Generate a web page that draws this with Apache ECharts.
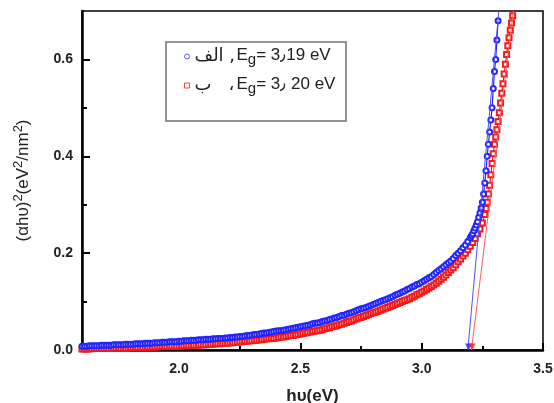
<!DOCTYPE html>
<html>
<head>
<meta charset="utf-8">
<script src="https://cdn.jsdelivr.net/npm/echarts@6/dist/echarts.min.js"></script>
<style>
  html, body { margin: 0; padding: 0; background: #fff; }
  #chart { width: 554px; height: 403px; }
</style>
</head>
<body>
<div id="chart"></div>
<script>
// sample "الف" (Eg = 3.19 eV), blue circles
var hvA = [1.60, 1.61, 1.62, 1.63, 1.64, 1.65, 1.66, 1.67, 1.68, 1.69,
	1.70, 1.71, 1.72, 1.73, 1.74, 1.75, 1.76, 1.77, 1.78, 1.79,
	1.80, 1.81, 1.82, 1.83, 1.84, 1.85, 1.86, 1.87, 1.88, 1.89,
	1.90, 1.91, 1.92, 1.93, 1.94, 1.95, 1.96, 1.97, 1.98, 1.99,
	2.00, 2.01, 2.02, 2.03, 2.04, 2.05, 2.06, 2.07, 2.08, 2.09,
	2.10, 2.11, 2.12, 2.13, 2.14, 2.15, 2.16, 2.17, 2.18, 2.19,
	2.20, 2.21, 2.22, 2.23, 2.24, 2.25, 2.26, 2.27, 2.28, 2.29,
	2.30, 2.31, 2.32, 2.33, 2.34, 2.35, 2.36, 2.37, 2.38, 2.39,
	2.40, 2.41, 2.42, 2.43, 2.44, 2.45, 2.46, 2.47, 2.48, 2.49,
	2.50, 2.51, 2.52, 2.53, 2.54, 2.55, 2.56, 2.57, 2.58, 2.59,
	2.60, 2.61, 2.62, 2.63, 2.64, 2.65, 2.66, 2.67, 2.68, 2.69,
	2.70, 2.71, 2.72, 2.73, 2.74, 2.75, 2.76, 2.77, 2.78, 2.79,
	2.80, 2.81, 2.82, 2.83, 2.84, 2.85, 2.86, 2.87, 2.88, 2.89,
	2.90, 2.91, 2.92, 2.93, 2.94, 2.95, 2.96, 2.97, 2.98, 2.99,
	3.00, 3.01, 3.02, 3.03, 3.04, 3.05, 3.06, 3.07, 3.08, 3.09,
	3.10, 3.11, 3.12, 3.13, 3.14, 3.15, 3.16, 3.17, 3.18, 3.19,
	3.200, 3.205, 3.210, 3.215, 3.220, 3.225, 3.230, 3.235, 3.240, 3.245,
	3.250, 3.255, 3.260, 3.265, 3.270, 3.275, 3.280, 3.285, 3.290, 3.295,
	3.300, 3.305, 3.310, 3.315];
var absA = [0.008, 0.008, 0.008, 0.009, 0.009, 0.009, 0.009, 0.009, 0.010, 0.010,
	0.010, 0.010, 0.010, 0.011, 0.011, 0.011, 0.011, 0.011, 0.012, 0.012,
	0.012, 0.012, 0.013, 0.013, 0.013, 0.013, 0.014, 0.014, 0.014, 0.014,
	0.015, 0.015, 0.015, 0.016, 0.016, 0.016, 0.017, 0.017, 0.017, 0.017,
	0.018, 0.018, 0.019, 0.019, 0.019, 0.020, 0.020, 0.020, 0.021, 0.021,
	0.021, 0.022, 0.022, 0.022, 0.023, 0.023, 0.024, 0.024, 0.024, 0.025,
	0.025, 0.026, 0.026, 0.027, 0.027, 0.028, 0.028, 0.029, 0.030, 0.030,
	0.031, 0.032, 0.032, 0.033, 0.034, 0.035, 0.035, 0.036, 0.037, 0.038,
	0.039, 0.040, 0.040, 0.041, 0.042, 0.043, 0.044, 0.045, 0.046, 0.047,
	0.048, 0.049, 0.050, 0.051, 0.052, 0.054, 0.055, 0.056, 0.057, 0.059,
	0.060, 0.061, 0.063, 0.064, 0.066, 0.067, 0.069, 0.071, 0.072, 0.074,
	0.076, 0.077, 0.079, 0.081, 0.083, 0.085, 0.086, 0.088, 0.090, 0.092,
	0.094, 0.096, 0.098, 0.100, 0.102, 0.104, 0.106, 0.108, 0.110, 0.113,
	0.115, 0.117, 0.120, 0.122, 0.125, 0.127, 0.130, 0.132, 0.135, 0.137,
	0.140, 0.143, 0.146, 0.149, 0.152, 0.156, 0.160, 0.164, 0.168, 0.172,
	0.176, 0.180, 0.184, 0.189, 0.195, 0.200, 0.205, 0.211, 0.217, 0.224,
	0.232, 0.236, 0.240, 0.246, 0.252, 0.258, 0.265, 0.274, 0.283, 0.293,
	0.305, 0.322, 0.345, 0.370, 0.400, 0.425, 0.450, 0.475, 0.500, 0.540,
	0.575, 0.600, 0.640, 0.680];

// sample "ب" (Eg = 3.20 eV), red squares
var hvB = [1.60, 1.61, 1.62, 1.63, 1.64, 1.65, 1.66, 1.67, 1.68, 1.69,
	1.70, 1.71, 1.72, 1.73, 1.74, 1.75, 1.76, 1.77, 1.78, 1.79,
	1.80, 1.81, 1.82, 1.83, 1.84, 1.85, 1.86, 1.87, 1.88, 1.89,
	1.90, 1.91, 1.92, 1.93, 1.94, 1.95, 1.96, 1.97, 1.98, 1.99,
	2.00, 2.01, 2.02, 2.03, 2.04, 2.05, 2.06, 2.07, 2.08, 2.09,
	2.10, 2.11, 2.12, 2.13, 2.14, 2.15, 2.16, 2.17, 2.18, 2.19,
	2.20, 2.21, 2.22, 2.23, 2.24, 2.25, 2.26, 2.27, 2.28, 2.29,
	2.30, 2.31, 2.32, 2.33, 2.34, 2.35, 2.36, 2.37, 2.38, 2.39,
	2.40, 2.41, 2.42, 2.43, 2.44, 2.45, 2.46, 2.47, 2.48, 2.49,
	2.50, 2.51, 2.52, 2.53, 2.54, 2.55, 2.56, 2.57, 2.58, 2.59,
	2.60, 2.61, 2.62, 2.63, 2.64, 2.65, 2.66, 2.67, 2.68, 2.69,
	2.70, 2.71, 2.72, 2.73, 2.74, 2.75, 2.76, 2.77, 2.78, 2.79,
	2.80, 2.81, 2.82, 2.83, 2.84, 2.85, 2.86, 2.87, 2.88, 2.89,
	2.90, 2.91, 2.92, 2.93, 2.94, 2.95, 2.96, 2.97, 2.98, 2.99,
	3.00, 3.01, 3.02, 3.03, 3.04, 3.05, 3.06, 3.07, 3.08, 3.09,
	3.10, 3.11, 3.12, 3.13, 3.14, 3.15, 3.16, 3.17, 3.18, 3.19,
	3.200, 3.210, 3.220, 3.230, 3.240, 3.250, 3.260, 3.265, 3.270, 3.275,
	3.280, 3.285, 3.290, 3.295, 3.300, 3.305, 3.310, 3.315, 3.320, 3.325,
	3.330, 3.335, 3.340, 3.345, 3.350, 3.355, 3.360, 3.365, 3.370, 3.375,
	3.380];
var absB = [0.002, 0.002, 0.002, 0.002, 0.003, 0.003, 0.003, 0.003, 0.003, 0.003,
	0.003, 0.003, 0.004, 0.004, 0.004, 0.004, 0.004, 0.004, 0.004, 0.004,
	0.005, 0.005, 0.005, 0.005, 0.005, 0.005, 0.006, 0.006, 0.006, 0.006,
	0.006, 0.006, 0.007, 0.007, 0.007, 0.007, 0.008, 0.008, 0.008, 0.008,
	0.008, 0.009, 0.009, 0.009, 0.009, 0.010, 0.010, 0.010, 0.010, 0.011,
	0.011, 0.011, 0.012, 0.012, 0.012, 0.013, 0.013, 0.013, 0.014, 0.014,
	0.014, 0.015, 0.015, 0.016, 0.016, 0.017, 0.017, 0.018, 0.018, 0.019,
	0.019, 0.020, 0.020, 0.021, 0.021, 0.022, 0.023, 0.023, 0.024, 0.024,
	0.025, 0.026, 0.027, 0.027, 0.028, 0.029, 0.030, 0.030, 0.031, 0.032,
	0.033, 0.034, 0.035, 0.036, 0.037, 0.038, 0.039, 0.040, 0.041, 0.042,
	0.044, 0.045, 0.046, 0.048, 0.049, 0.050, 0.052, 0.053, 0.055, 0.057,
	0.059, 0.060, 0.062, 0.064, 0.066, 0.067, 0.069, 0.071, 0.073, 0.075,
	0.077, 0.078, 0.080, 0.082, 0.084, 0.086, 0.088, 0.090, 0.092, 0.094,
	0.096, 0.098, 0.100, 0.102, 0.104, 0.106, 0.109, 0.111, 0.114, 0.116,
	0.119, 0.122, 0.125, 0.128, 0.131, 0.134, 0.138, 0.142, 0.146, 0.150,
	0.155, 0.160, 0.165, 0.170, 0.176, 0.182, 0.188, 0.194, 0.200, 0.207,
	0.214, 0.222, 0.230, 0.240, 0.250, 0.262, 0.280, 0.292, 0.305, 0.322,
	0.340, 0.362, 0.385, 0.405, 0.425, 0.440, 0.455, 0.472, 0.490, 0.510,
	0.530, 0.550, 0.570, 0.590, 0.610, 0.628, 0.645, 0.660, 0.675, 0.690,
	0.705];

// linear extrapolation lines down to the energy axis
var fitA = [[3.19, 0], [3.318, 0.70]];
var fitB = [[3.205, 0], [3.378, 0.70]];
var gapA = [3.193];
var gapB = [3.208];

var xMajor = [2.0, 2.5, 3.0, 3.5];
var xMinor = [1.75, 2.25, 2.75, 3.25];
var yMajor = [0.0, 0.2, 0.4, 0.6];
var yMinor = [0.1, 0.3, 0.5];

function pairs(xs, ys) {
	var out = [];
	for (var i = 0; i < xs.length; i++) {
		out.push([xs[i], ys[i]]);
	}
	return out;
}

var blue = '#2424ff';
var red = '#f21a1a';
var font = 'Liberation Sans, Arial, sans-serif';

var tickLabel = {
	color: '#222',
	fontWeight: 'bold',
	fontSize: 14,
	fontFamily: font,
	formatter: function(v) { return v.toFixed(1); }
};

var option = {
	animation: false,
	grid: {
		left: 82,
		right: 11,
		top: 11,
		bottom: 53,
		outerBoundsMode: 'none',
		show: true,
		borderColor: '#000',
		borderWidth: 1.5
	},
	legend: {
		orient: 'vertical',
		left: 179,
		top: 42,
		itemWidth: 5,
		itemHeight: 5,
		itemGap: 9,
		selectedMode: false,
		data: [{
			name: 'الف',
			icon: 'circle',
			itemStyle: { color: '#fff', borderColor: '#5a5aff', borderWidth: 1 }
		}, {
			name: 'ب',
			icon: 'rect',
			itemStyle: { color: '#fff', borderColor: '#ff4040', borderWidth: 1 }
		}],
		formatter: function(name) {
			if (name === 'الف') {
				return '{ar|الف ,}{t|E}{sub|g}{t|= 3٫19 eV}';
			}
			return '{ar|ب   ،}{t|E}{sub|g}{t|= 3٫ 20 eV}';
		},
		textStyle: {
			color: '#222',
			fontSize: 17,
			fontFamily: font,
			rich: {
				ar: { fontSize: 18, fontFamily: 'DejaVu Sans', width: 42, lineHeight: 19, verticalAlign: 'top', color: '#222' },
				t: { fontSize: 17, fontFamily: font, lineHeight: 19, verticalAlign: 'top', color: '#222' },
				sub: { fontSize: 15, fontFamily: font, lineHeight: 19, padding: [5, 0, 0, 0], verticalAlign: 'top', color: '#222' }
			}
		}
	},
	graphic: [{
		type: 'rect',
		shape: { x: 166, y: 42, width: 180, height: 79 },
		style: { fill: 'none', stroke: '#707070', lineWidth: 1.5 },
		z: 10
	}],
	xAxis: [{
		type: 'value',
		min: 1.6,
		max: 3.5,
		position: 'bottom',
		name: 'hυ(eV)',
		nameLocation: 'middle',
		nameGap: 38,
		nameTextStyle: { color: '#222', fontWeight: 'bold', fontSize: 17, fontFamily: font },
		axisLine: { lineStyle: { color: '#000', width: 2.5 } },
		axisTick: { inside: true, length: 7, lineStyle: { color: '#000', width: 2 }, customValues: xMajor },
		axisLabel: Object.assign({ margin: 12, customValues: xMajor }, tickLabel),
		splitLine: { show: false }
	}, {
		type: 'value',
		min: 1.6,
		max: 3.5,
		position: 'bottom',
		axisLine: { show: false },
		axisTick: { inside: true, length: 4, lineStyle: { color: '#000', width: 2 }, customValues: xMinor },
		axisLabel: { show: false },
		splitLine: { show: false }
	}],
	yAxis: [{
		type: 'value',
		min: 0,
		max: 0.7,
		position: 'left',
		name: '{t|(αhυ)}{sup|2}{t|(eV}{sup|2}{t|/nm}{sup|2}{t|)}',
		nameLocation: 'middle',
		nameRotate: 90,
		nameGap: 48,
		nameTextStyle: {
			color: '#222',
			fontSize: 17,
			fontFamily: font,
			rich: {
				t: { fontSize: 17, fontFamily: font, lineHeight: 22, color: '#222' },
				sup: { fontSize: 13, fontFamily: font, lineHeight: 13, verticalAlign: 'top', color: '#222' }
			}
		},
		axisLine: { lineStyle: { color: '#000', width: 2.5 } },
		axisTick: { inside: true, length: 8, lineStyle: { color: '#000', width: 2 }, customValues: yMajor },
		axisLabel: Object.assign({ margin: 9, customValues: yMajor }, tickLabel),
		splitLine: { show: false }
	}, {
		type: 'value',
		min: 0,
		max: 0.7,
		position: 'left',
		axisLine: { show: false },
		axisTick: { inside: true, length: 5, lineStyle: { color: '#000', width: 2 }, customValues: yMinor },
		axisLabel: { show: false },
		splitLine: { show: false }
	}],
	series: [{
		name: 'ب',
		type: 'line',
		data: pairs(hvB, absB),
		symbol: 'emptyRect',
		symbolSize: 5,
		showAllSymbol: true,
		lineStyle: { color: red, width: 1.2 },
		itemStyle: { color: red, borderWidth: 1.2 },
		z: 3
	}, {
		name: 'الف',
		type: 'line',
		data: pairs(hvA, absA),
		symbol: 'emptyCircle',
		symbolSize: 5,
		showAllSymbol: true,
		lineStyle: { color: blue, width: 1.2 },
		itemStyle: { color: blue, borderWidth: 1.2 },
		z: 4
	}, {
		name: 'fitA',
		type: 'line',
		data: fitA,
		symbol: 'none',
		lineStyle: { color: '#4f4fff', width: 1 },
		z: 5
	}, {
		name: 'fitB',
		type: 'line',
		data: fitB,
		symbol: 'none',
		lineStyle: { color: '#ff5c5c', width: 1 },
		z: 5
	}, {
		name: 'gapA',
		type: 'scatter',
		data: gapA.map(function(v) { return [v, 0]; }),
		symbol: 'triangle',
		symbolRotate: 180,
		symbolSize: 7,
		symbolOffset: [0, -3],
		itemStyle: { color: blue },
		z: 6
	}, {
		name: 'gapB',
		type: 'scatter',
		data: gapB.map(function(v) { return [v, 0]; }),
		symbol: 'triangle',
		symbolRotate: 180,
		symbolSize: 7,
		symbolOffset: [0, -3],
		itemStyle: { color: red },
		z: 6
	}]
};

var chart = echarts.init(document.getElementById('chart'));
chart.setOption(option);
</script>
</body>
</html>
